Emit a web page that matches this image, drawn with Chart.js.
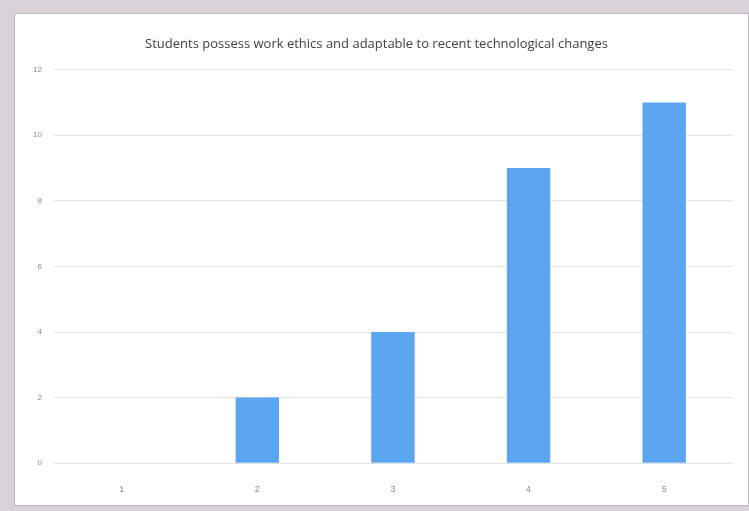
<!DOCTYPE html>
<html>
<head>
<meta charset="utf-8">
<script src="https://cdn.jsdelivr.net/npm/chart.js@4"></script>
<style>
  html, body { margin: 0; padding: 0; background: #d9d3d8; }
  .frame {
    position: absolute; left: 14px; top: 13px; width: 735px; height: 493px;
    background: #fff; border: 1px solid #bdb6bb; box-sizing: border-box;
  }
  canvas { display: block; }
</style>
</head>
<body>
<div class="frame"><canvas id="chart" width="733" height="491"></canvas></div>
<script>
const categories = ['1', '2', '3', '4', '5'];
const counts = [0, 2, 4, 9, 11];
const yTicks = [0, 2, 4, 6, 8, 10, 12];

const ctx = document.getElementById('chart').getContext('2d');
const chart = new Chart(ctx, {
    type: 'bar',
    data: {
        labels: categories,
        datasets: [{
            data: counts,
            backgroundColor: '#5ba6f0',
            barPercentage: 0.32,
            categoryPercentage: 1
        }]
    },
    options: {
        responsive: false,
        animation: false,
        layout: { padding: { left: 6, right: 16, top: 2, bottom: -3 } },
        plugins: {
            legend: { display: false },
            tooltip: { enabled: false },
            title: {
                display: true,
                text: 'Students possess work ethics and adaptable to recent technological changes',
                color: '#404040',
                font: { family: 'Open Sans', size: 13, weight: 'normal' },
                padding: { top: 20, bottom: 18 }
            }
        },
        scales: {
            x: {
                grid: { display: false },
                border: { display: false },
                ticks: { color: '#8a8a8a', font: { family: 'Liberation Sans', size: 9 }, padding: 13 }
            },
            y: {
                min: 0,
                max: 12,
                afterBuildTicks: axis => { axis.ticks = yTicks.map(v => ({ value: v })); },
                grid: { color: '#e2e2e2', drawTicks: false },
                border: { display: false },
                ticks: { color: '#8a8a8a', font: { family: 'Liberation Sans', size: 8 }, padding: 12 }
            }
        }
    }
});
</script>
</body>
</html>
